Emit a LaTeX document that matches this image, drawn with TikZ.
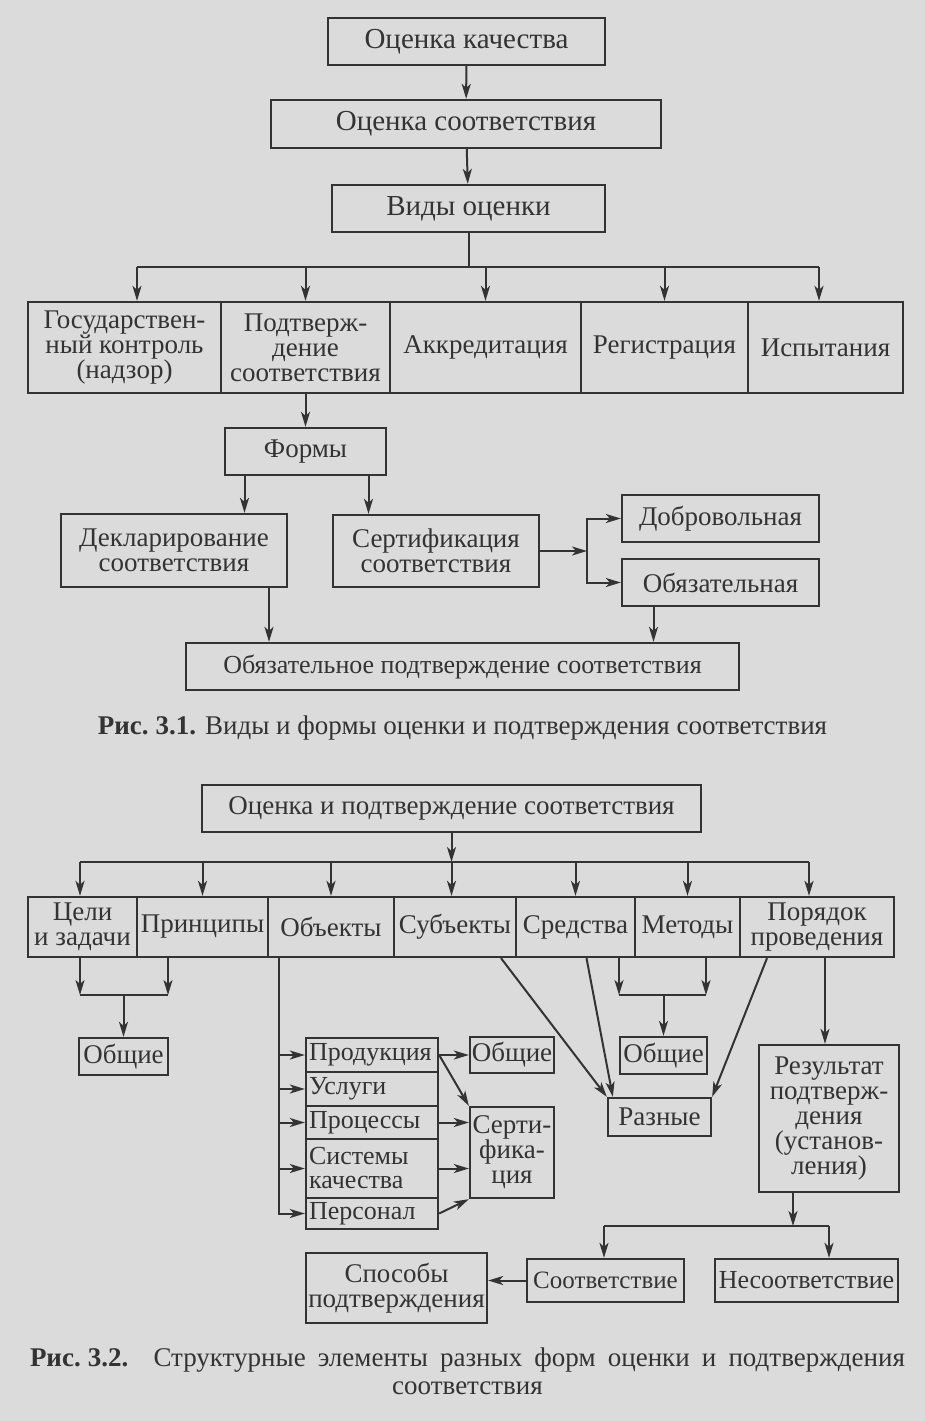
\documentclass[tikz,border=0pt]{standalone}
\usepackage{fontspec}
\setmainfont{Liberation Serif}
\usetikzlibrary{arrows.meta, positioning}
\definecolor{paper}{gray}{0.86}
\definecolor{ink}{gray}{0.2}

\begin{document}
\begin{tikzpicture}[
    x=1pt, y=-1pt,
    box/.style={rectangle, draw=ink, line width=2.3pt, inner sep=0pt, align=center, text=ink, font=\fontsize{27}{25}\selectfont},
    bigbox/.style={box, font=\fontsize{29}{25}\selectfont},
    item/.style={box, text width=126pt, inner xsep=3pt, align=left, font=\fontsize{26}{24}\selectfont},
    arrow/.style={draw=ink, line width=2pt, -{Stealth[length=15pt, width=9pt, inset=4pt]}},
    line/.style={draw=ink, line width=2pt},
    caption/.style={text=ink, inner sep=0pt, font=\fontsize{27}{28}\selectfont}
]
\fill[paper] (0,0) rectangle (925,1421);
\useasboundingbox (0,0) rectangle (925,1421);

\node[bigbox, minimum width=277pt, minimum height=47pt] (quality) at (466.5,41.5) {Оценка качества};
\node[bigbox, minimum width=390pt, minimum height=48pt] (conformity) at (466,124) {Оценка соответствия};
\node[bigbox, minimum width=273pt, minimum height=47pt] (kinds) at (468.5,208.5) {Виды оценки};

\node[box, minimum width=193pt, minimum height=91pt] (control) at (124.5,347.5) {Государствен-\\ный контроль\\(надзор)};
\node[box, minimum width=169pt, minimum height=91pt] (confirm) at (305.5,347.5) {Подтверж-\\дение\\соответствия};
\node[box, minimum width=191pt, minimum height=91pt] (accred) at (485.5,347.5) {Аккредитация};
\node[box, minimum width=167pt, minimum height=91pt] (regist) at (664.5,347.5) {Регистрация};
\node[box, minimum width=155pt, minimum height=91pt] (tests) at (825.5,347.5) {Испытания};

\node[box, minimum width=161pt, minimum height=47pt] (forms) at (305.5,451.5) {Формы};
\node[box, minimum width=226pt, minimum height=73pt] (declar) at (174,550.5) {Декларирование\\соответствия};
\node[box, minimum width=206pt, minimum height=72pt] (certif) at (436,551) {Сертификация\\соответствия};
\node[box, minimum width=197pt, minimum height=47pt] (volunt) at (720.5,518.5) {Добровольная};
\node[box, minimum width=197pt, minimum height=47pt] (mandat) at (720.5,582.5) {Обязательная};
\node[box, minimum width=553pt, minimum height=47pt, font=\fontsize{26}{25}\selectfont] (mandconf) at (462.5,666.5) {Обязательное подтверждение соответствия};

\node[caption] (cap1) at (462.5,728) {\textbf{Рис.\hspace{7pt}3.1.} Виды и формы оценки и подтверждения соответствия};

\coordinate (b1) at (137,267);
\coordinate (b5) at (819,267);
\draw[arrow] (quality) -- (conformity);
\draw[arrow] (conformity) -- (kinds);
\draw[line] (kinds.south) -- (kinds.south |- b1);
\draw[line] (b1) -- (b5);
\draw[arrow] (b1) -- (b1 |- control.north);
\draw[arrow] (confirm.north |- b1) -- (confirm);
\draw[arrow] (accred.north |- b1) -- (accred);
\draw[arrow] (regist.north |- b1) -- (regist);
\draw[arrow] (b5) -- (b5 |- tests.north);
\draw[arrow] (confirm) -- (forms);
\draw[arrow] ([xshift=-61pt]forms.south) -- ([xshift=-61pt]forms.south |- declar.north);
\draw[arrow] ([xshift=63pt]forms.south) -- ([xshift=63pt]forms.south |- certif.north);
\coordinate (fork) at (587,551);
\draw[arrow] (certif.east) -- (fork);
\draw[arrow] (fork) |- (volunt);
\draw[arrow] (fork) |- (mandat);
\draw[arrow] ([xshift=95pt]declar.south) -- ([xshift=95pt]declar.south |- mandconf.north);
\draw[arrow] ([xshift=-67pt]mandat.south) -- ([xshift=-67pt]mandat.south |- mandconf.north);

\node[box, minimum width=499pt, minimum height=47pt] (assess) at (451.5,808.5) {Оценка и подтверждение соответствия};

\node[box, minimum width=109pt, minimum height=60pt] (aims) at (82.5,927) {Цели\\и задачи};
\node[box, minimum width=131pt, minimum height=60pt] (princ) at (202.5,927) {Принципы};
\node[box, minimum width=126pt, minimum height=60pt] (objects) at (331,927) {Объекты};
\node[box, minimum width=122pt, minimum height=60pt] (subjects) at (455,927) {Субъекты};
\node[box, minimum width=119pt, minimum height=60pt] (means) at (575.5,927) {Средства};
\node[box, minimum width=105pt, minimum height=60pt] (methods) at (687.5,927) {Методы};
\node[box, minimum width=154pt, minimum height=60pt] (order) at (817,927) {Порядок\\проведения};

\node[box, minimum width=89pt, minimum height=37pt] (common1) at (123.5,1056.5) {Общие};
\node[item, minimum height=34pt] (product) at (372,1055) {Продукция};
\node[item, minimum height=34pt] (service) at (372,1089) {Услуги};
\node[item, minimum height=33pt] (process) at (372,1122.5) {Процессы};
\node[item, minimum height=59pt] (system) at (372,1168.5) {Системы\\качества};
\node[item, minimum height=31pt] (staff) at (372,1213.5) {Персонал};
\node[box, minimum width=84pt, minimum height=36pt] (common2) at (512,1055) {Общие};
\node[box, minimum width=84pt, minimum height=91pt] (cert2) at (512,1152.5) {Серти-\\фика-\\ция};
\node[box, minimum width=87pt, minimum height=37pt] (common3) at (663.5,1055.5) {Общие};
\node[box, minimum width=103pt, minimum height=38pt] (various) at (659.5,1117) {Разные};
\node[box, minimum width=140pt, minimum height=147pt] (result) at (829,1118.5) {Результат\\подтверж-\\дения\\(установ-\\ления)};
\node[box, minimum width=157pt, minimum height=43pt] (match) at (605.5,1280.5) {\fontsize{25}{25}\selectfont Соответствие};
\node[box, minimum width=183pt, minimum height=43pt] (mismatch) at (806.5,1280.5) {\fontsize{26}{25}\selectfont Несоответствие};
\node[box, minimum width=181pt, minimum height=70pt] (ways) at (396.5,1288) {Способы\\подтверждения};

\node[caption, align=center] (cap2) at (467.5,1371) {\makebox[875pt][s]{\textbf{Рис.\hspace{7pt}3.2.} Структурные элементы разных форм оценки и подтверждения}\\соответствия};

\coordinate (busL) at (80,862);
\coordinate (busR) at (809,862);
\draw[arrow] (assess) -- (assess.south |- busL);
\draw[line] (busL) -- (busR);
\draw[arrow] (busL) -- (busL |- aims.north);
\draw[arrow] (princ.north |- busL) -- (princ);
\draw[arrow] (objects.north |- busL) -- (objects);
\draw[arrow] (assess.south |- busL) -- (assess.south |- subjects.north);
\draw[arrow] (means.north |- busL) -- (means);
\draw[arrow] (methods.north |- busL) -- (methods);
\draw[arrow] (busR) -- (busR |- order.north);

\coordinate (j1) at (80,995);
\coordinate (j2) at (168,995);
\draw[arrow] (j1 |- aims.south) -- (j1);
\draw[arrow] (j2 |- princ.south) -- (j2);
\draw[line] (j1) -- (j2);
\draw[arrow] (common1.north |- j1) -- (common1);

\coordinate (ox) at ([xshift=-52pt]objects.south);
\draw[arrow] (ox) |- (staff);
\draw[arrow] (ox |- product) -- (product);
\draw[arrow] (ox |- service) -- (service);
\draw[arrow] (ox |- process) -- (process);
\draw[arrow] (ox |- system) -- (system);

\draw[arrow] (product) -- (common2);
\draw[arrow] (product.east) -- (cert2.north west);
\draw[arrow] (process.east) -- (process.east -| cert2.west);
\draw[arrow] (system.east) -- (system.east -| cert2.west);
\draw[arrow] (staff.east) -- (cert2.south west);

\draw[arrow] ([xshift=46pt]subjects.south) -- (various.north west);
\draw[arrow] ([xshift=11pt]means.south) -- ([xshift=6pt]various.north west);
\draw[arrow] ([xshift=-50pt]order.south) -- (various.north east);
\coordinate (j3) at (619,995);
\coordinate (j4) at (706,995);
\draw[arrow] (j3 |- means.south) -- (j3);
\draw[arrow] (j4 |- methods.south) -- (j4);
\draw[line] (j3) -- (j4);
\draw[arrow] (common3.north |- j3) -- (common3);

\draw[arrow] ([xshift=8pt]order.south) -- ([xshift=8pt]order.south |- result.north);
\coordinate (rL) at (604,1226);
\coordinate (rR) at (829,1226);
\draw[arrow] ([xshift=-36pt]result.south) -- ([xshift=-36pt]result.south |- rL);
\draw[line] (rL) -- (rR);
\draw[arrow] (rL) -- (rL |- match.north);
\draw[arrow] (rR) -- (rR |- mismatch.north);
\draw[arrow] (match.west) -- (match.west -| ways.east);
\end{tikzpicture}
\end{document}
